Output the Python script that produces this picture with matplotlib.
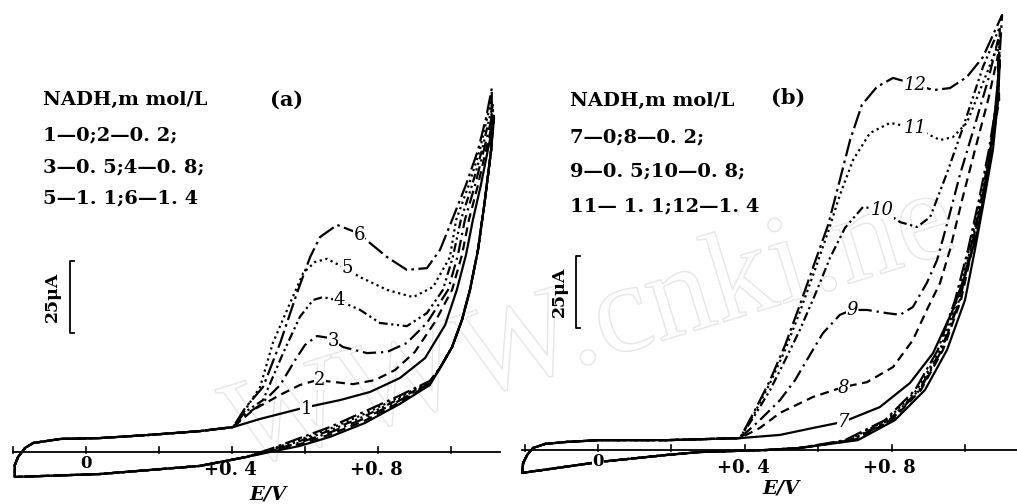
import matplotlib.pyplot as plt
import matplotlib.patheffects as pe

# ---------------- panel (a): NADH 0 ... 1.4 mmol/L, curves 1-6 ----------------
# forward scan, common part (E in V, I in uA)
a_base_e = [-0.195, -0.186, -0.167, -0.145, -0.07, 0.038, 0.175, 0.312, 0.403]
a_base_i = [-4.5, -1.7, 1.4, 3.1, 4.5, 4.8, 5.9, 7.2, 8.6]

a_fwd_e1 = [0.477, 0.595, 0.696, 0.778, 0.860, 0.929, 0.984, 1.016, 1.041, 1.060, 1.082, 1.101, 1.112, 1.118]
a_fwd_i1 = [11.4, 15.2, 17.9, 20.7, 25.5, 32.4, 43.8, 55.9, 67.9, 80.0, 92.1, 104.1, 111.0, 115.2]
a_fwd_e2 = [0.458, 0.532, 0.586, 0.633, 0.682, 0.732, 0.792, 0.847, 0.901, 0.956, 1.003, 1.030, 1.049, 1.074, 1.096, 1.110, 1.118]
a_fwd_i2 = [14.5, 19.7, 23.1, 24.8, 24.1, 23.4, 24.8, 28.3, 34.5, 44.8, 55.9, 67.9, 80.0, 92.1, 104.1, 111.7, 117.2]
a_fwd_e3 = [0.436, 0.477, 0.532, 0.573, 0.600, 0.633, 0.668, 0.704, 0.770, 0.825, 0.879, 0.934, 0.992, 1.019, 1.038, 1.066, 1.090, 1.107, 1.115]
a_fwd_i3 = [12.8, 16.2, 23.1, 31.7, 36.9, 40.0, 39.3, 36.2, 34.1, 34.5, 37.6, 44.5, 55.9, 67.9, 80.0, 92.1, 104.1, 112.8, 117.9]
a_fwd_e4 = [0.436, 0.485, 0.540, 0.586, 0.622, 0.649, 0.688, 0.751, 0.805, 0.879, 0.934, 0.978, 1.005, 1.027, 1.058, 1.085, 1.104, 1.115]
a_fwd_i4 = [13.8, 17.9, 34.1, 46.6, 52.4, 53.4, 52.4, 49.0, 44.5, 43.4, 47.9, 55.9, 67.2, 80.0, 92.1, 104.1, 114.5, 119.7]
a_fwd_e5 = [0.436, 0.477, 0.512, 0.551, 0.595, 0.627, 0.660, 0.710, 0.751, 0.825, 0.896, 0.951, 0.997, 1.014, 1.049, 1.079, 1.101, 1.112]
a_fwd_i5 = [14.5, 22.4, 37.6, 49.0, 61.7, 65.5, 66.6, 63.4, 60.3, 55.9, 53.4, 56.9, 67.2, 80.0, 92.1, 104.1, 116.2, 121.4]
a_fwd_e6 = [0.436, 0.485, 0.532, 0.578, 0.614, 0.641, 0.688, 0.745, 0.825, 0.879, 0.934, 0.970, 1.003, 1.041, 1.074, 1.096, 1.112]
a_fwd_i6 = [15.2, 22.4, 37.6, 54.8, 67.2, 74.1, 78.3, 75.5, 67.2, 62.8, 63.4, 69.7, 80.0, 92.1, 104.1, 115.2, 125.5]

# reverse scan: upper part shared, then the band near +0.6 V, then the tail
a_rev_top_e = [1.110, 1.093, 1.074, 1.052, 1.030, 1.003, 0.970]
a_rev_top_i = [104.1, 86.9, 69.7, 55.9, 45.5, 36.2, 29.0]
a_rev_band_e = [0.942, 0.860, 0.764, 0.668, 0.586, 0.504]
a_rev_band_i1 = [23.1, 16.6, 10.0, 5.2, 2.1, 0.0]
a_rev_band_i2 = [23.4, 17.2, 10.8, 6.0, 2.7, 0.2]
a_rev_band_i3 = [23.8, 17.8, 11.6, 6.7, 3.3, 0.4]
a_rev_band_i4 = [24.0, 18.4, 12.4, 7.4, 3.8, 0.6]
a_rev_band_i5 = [24.3, 19.0, 13.2, 8.0, 4.3, 0.8]
a_rev_band_i6 = [24.5, 19.5, 14.0, 8.6, 4.8, 1.0]
a_tail_e = [0.440, 0.312, 0.038, -0.195, -0.195]
a_tail_i = [-1.7, -4.8, -7.6, -8.6, -4.5]

a_labels = ["1", "2", "3", "4", "5", "6"]
a_label_e = [0.603, 0.641, 0.677, 0.693, 0.715, 0.748]
a_label_i = [14.8, 24.8, 38.3, 52.4, 63.4, 74.8]

# ---------------- panel (b): curves 7-12 ----------------
b_base_e = [-0.204, -0.193, -0.177, -0.144, -0.084, 0.005, 0.188, 0.387]
b_base_i = [-4.5, -1.7, 0.7, 2.1, 2.8, 3.4, 3.4, 4.1]

b_fwd_e7 = [0.496, 0.586, 0.668, 0.768, 0.850, 0.913, 0.967, 1.005, 1.035, 1.063, 1.082, 1.095]
b_fwd_i7 = [5.2, 7.6, 9.7, 14.8, 23.1, 33.4, 48.3, 62.1, 75.9, 96.6, 117.2, 134.5]
b_fwd_e8 = [0.441, 0.496, 0.586, 0.668, 0.733, 0.804, 0.858, 0.896, 0.932, 0.959, 0.992, 1.027, 1.063, 1.090]
b_fwd_i8 = [7.6, 12.8, 18.3, 21.7, 23.4, 28.6, 37.9, 48.3, 57.6, 69.0, 86.2, 103.4, 120.7, 136.2]
b_fwd_e9 = [0.441, 0.496, 0.537, 0.569, 0.613, 0.659, 0.692, 0.733, 0.787, 0.823, 0.858, 0.896, 0.924, 0.954, 0.986, 1.027, 1.063, 1.090]
b_fwd_i9 = [10.3, 17.2, 24.1, 31.0, 40.3, 46.6, 48.3, 48.3, 47.2, 46.6, 49.3, 57.6, 65.5, 79.3, 94.8, 112.1, 127.6, 141.4]
b_fwd_e10 = [0.428, 0.469, 0.510, 0.550, 0.591, 0.632, 0.673, 0.722, 0.774, 0.823, 0.869, 0.905, 0.951, 0.995, 1.049, 1.095]
b_fwd_i10 = [12.1, 20.7, 31.0, 41.4, 53.4, 66.2, 76.6, 83.8, 82.8, 78.6, 76.9, 80.3, 95.5, 111.4, 132.1, 145.9]
b_fwd_e11 = [0.428, 0.469, 0.510, 0.550, 0.591, 0.627, 0.659, 0.695, 0.741, 0.796, 0.864, 0.932, 0.967, 1.005, 1.049, 1.095]
b_fwd_i11 = [13.1, 23.1, 34.5, 47.6, 62.1, 75.2, 87.9, 100.0, 109.3, 112.8, 111.0, 106.9, 107.9, 112.8, 126.6, 141.4]
b_fwd_e12 = [0.428, 0.469, 0.510, 0.550, 0.591, 0.627, 0.659, 0.687, 0.719, 0.760, 0.804, 0.869, 0.913, 0.959, 1.005, 1.049, 1.101]
b_fwd_i12 = [13.8, 24.1, 36.2, 50.0, 64.8, 77.6, 93.1, 106.9, 119.0, 125.2, 128.3, 125.9, 124.1, 124.8, 128.6, 135.5, 150.0]

b_rev_i = [120.7, 103.4, 86.2, 69.0, 51.7, 34.5, 20.7, 10.3, 3.4, 0.7]
b_rev_e7 = [1.090, 1.076, 1.052, 1.027, 1.000, 0.951, 0.891, 0.809, 0.708, 0.550]
b_rev_e8 = [1.093, 1.071, 1.046, 1.019, 0.989, 0.940, 0.880, 0.801, 0.698, 0.550]
b_rev_e9 = [1.090, 1.071, 1.046, 1.016, 0.986, 0.937, 0.877, 0.798, 0.692, 0.550]
b_rev_e10 = [1.090, 1.068, 1.044, 1.014, 0.984, 0.935, 0.875, 0.793, 0.687, 0.550]
b_rev_e11 = [1.087, 1.068, 1.041, 1.011, 0.978, 0.932, 0.869, 0.787, 0.681, 0.550]
b_rev_e12 = [1.087, 1.065, 1.038, 1.008, 0.973, 0.926, 0.864, 0.782, 0.673, 0.550]
b_tail_e = [0.460, 0.278, 0.188, 0.005, -0.207, -0.204]
b_tail_i = [0.0, -0.7, -1.7, -4.1, -7.9, -4.5]

b_labels = ["7", "8", "9", "10", "11", "12"]
b_label_e = [0.668, 0.670, 0.692, 0.774, 0.864, 0.864]
b_label_i = [9.7, 21.4, 48.3, 82.8, 111.0, 125.9]

tick_e = [-0.2, 0.0, 0.2, 0.4, 0.6, 0.8, 1.0]
tick_text_e = [0.0, 0.4, 0.8]
tick_text = ["0", "+0. 4", "+0. 8"]

a_legend = ["NADH,m mol/L", "1\u20140;2\u20140. 2;", "3\u20140. 5;4\u20140. 8;", "5\u20141. 1;6\u20141. 4"]
b_legend = ["NADH,m mol/L", "7\u20140;8\u20140. 2;", "9\u20140. 5;10\u20140. 8;", "11\u2014 1. 1;12\u20141. 4"]

styles = ["-", (0, (4, 2.5)), (0, (6, 2.2, 1, 2.2)), (0, (4, 1.6, 1, 1.6, 1, 1.6)),
          (0, (1, 1.6)), (0, (8, 2, 1.2, 2))]
SERIF = "DejaVu Serif"

fig = plt.figure(figsize=(10.17, 5.04), dpi=100)
ax_a = fig.add_axes([0, 0, 508 / 1017, 1])
ax_b = fig.add_axes([508 / 1017, 0, 509 / 1017, 1])
ax_a.set_xlim(-0.2356, 1.1562)
ax_a.set_ylim(-17.93, 155.86)
ax_b.set_xlim(-0.2452, 1.1417)
ax_b.set_ylim(-18.62, 155.17)
for ax in (ax_a, ax_b):
    ax.axis("off")

a_fwd = [(a_fwd_e1, a_fwd_i1), (a_fwd_e2, a_fwd_i2), (a_fwd_e3, a_fwd_i3),
         (a_fwd_e4, a_fwd_i4), (a_fwd_e5, a_fwd_i5), (a_fwd_e6, a_fwd_i6)]
a_band = [a_rev_band_i1, a_rev_band_i2, a_rev_band_i3, a_rev_band_i4, a_rev_band_i5, a_rev_band_i6]
for k, ((fe, fi), bi) in enumerate(zip(a_fwd, a_band)):
    e = a_base_e + fe + a_rev_top_e + a_rev_band_e + a_tail_e
    i = a_base_i + fi + a_rev_top_i + bi + a_tail_i
    ax_a.plot(e, i, color="black", lw=1.6, ls=styles[k], solid_joinstyle="round")

b_fwd = [(b_fwd_e7, b_fwd_i7), (b_fwd_e8, b_fwd_i8), (b_fwd_e9, b_fwd_i9),
         (b_fwd_e10, b_fwd_i10), (b_fwd_e11, b_fwd_i11), (b_fwd_e12, b_fwd_i12)]
b_rev = [b_rev_e7, b_rev_e8, b_rev_e9, b_rev_e10, b_rev_e11, b_rev_e12]
for k, ((fe, fi), re_) in enumerate(zip(b_fwd, b_rev)):
    e = b_base_e + fe + re_ + b_tail_e
    i = b_base_i + fi + b_rev_i + b_tail_i
    ax_b.plot(e, i, color="black", lw=1.6, ls=styles[k], solid_joinstyle="round")

box = dict(facecolor="white", edgecolor="none", pad=0.4)
for lab, le, li in zip(a_labels, a_label_e, a_label_i):
    ax_a.text(le, li, lab, ha="center", va="center", fontsize=13, family=SERIF, bbox=box)
for lab, le, li in zip(b_labels, b_label_e, b_label_i):
    ax_b.text(le, li, lab, ha="center", va="center", fontsize=13, family=SERIF,
              style="italic", bbox=box)

# potential axes with small ticks
ax_a.plot([-0.200, 1.134], [0, 0], color="black", lw=1.3)
ax_b.plot([-0.207, 1.142], [0, 0], color="black", lw=1.3)
for ax in (ax_a, ax_b):
    for t in tick_e:
        ax.plot([t, t], [-0.4, 1.6], color="black", lw=1.2)
    ax.text(0.0, -4.1, tick_text[0], ha="center", va="center", fontsize=12,
            family=SERIF, fontweight="bold", bbox=box)
    for t, s in zip(tick_text_e[1:], tick_text[1:]):
        ax.text(t - 0.005, -6.2, s, ha="center", va="center", fontsize=13,
                family=SERIF, fontweight="bold")
ax_a.text(0.50, -14.6, "E/V", ha="center", va="center", fontsize=14, family=SERIF,
          fontweight="bold", style="italic")
ax_b.text(0.50, -13.3, "E/V", ha="center", va="center", fontsize=14, family=SERIF,
          fontweight="bold", style="italic")

# 25 uA scale bars
for ax, xb, lo, hi, xt in ((ax_a, -0.044, 41.0, 66.0, -0.093), (ax_b, -0.060, 42.0, 67.0, -0.104)):
    ax.plot([xb + 0.012, xb, xb, xb + 0.012], [hi, hi, lo, lo], color="black", lw=1.3)
    ax.text(xt, (lo + hi) / 2, "25\u03bcA", rotation=90, ha="center", va="center",
            fontsize=12.5, family=SERIF, fontweight="bold")

# concentration notes
for lines, x0, ys, tag, xt, yt in ((a_legend, 43, [100, 135, 167, 198], "(a)", 287, 100),
                                   (b_legend, 570, [101, 137, 171, 206], "(b)", 788, 98)):
    for s, y in zip(lines, ys):
        fig.text(x0 / 1017, 1 - y / 504, s, ha="left", va="center", fontsize=14,
                 family=SERIF, fontweight="bold")
    fig.text(xt / 1017, 1 - yt / 504, tag, ha="center", va="center", fontsize=15,
             family=SERIF, fontweight="bold")

# faint watermark, kept inside the picture
fig.text(0.21, 0.07, "WWW.cnki.ne", rotation=17, fontsize=92, family="Liberation Serif",
         color="none", zorder=-5,
         path_effects=[pe.Stroke(linewidth=1.0, foreground="#e6e6e6")])

fig.savefig("out.png", dpi=100, facecolor="white")
